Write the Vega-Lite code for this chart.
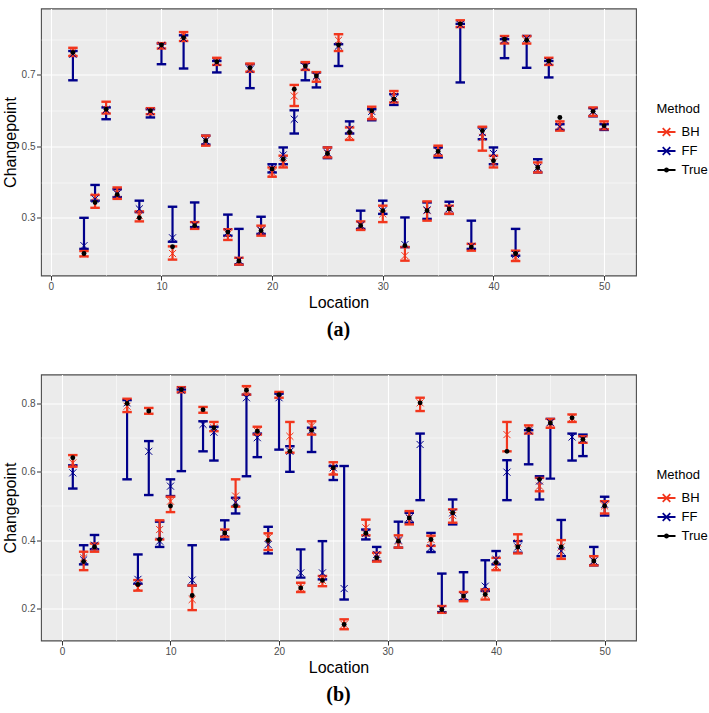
{
"$schema": "https://vega.github.io/schema/vega-lite/v6.json",
"background": "white",
"padding": {"left": 1, "top": 7.5, "right": 0, "bottom": 0},
"spacing": 33,
"datasets": {
"a": [
{"loc":2,"method":"True","est":0.763},{"loc":2,"method":"BH","lo":0.753,"hi":0.776,"est":0.765},{"loc":2,"method":"FF","lo":0.685,"hi":0.767,"est":0.758},
{"loc":3,"method":"True","est":0.200},{"loc":3,"method":"BH","lo":0.192,"hi":0.207,"est":0.199},{"loc":3,"method":"FF","lo":0.213,"hi":0.300,"est":0.222},
{"loc":4,"method":"True","est":0.343},{"loc":4,"method":"BH","lo":0.328,"hi":0.364,"est":0.359},{"loc":4,"method":"FF","lo":0.348,"hi":0.392,"est":0.353},
{"loc":5,"method":"True","est":0.604},{"loc":5,"method":"BH","lo":0.592,"hi":0.625,"est":0.604},{"loc":5,"method":"FF","lo":0.576,"hi":0.609,"est":0.602},
{"loc":6,"method":"True","est":0.365},{"loc":6,"method":"BH","lo":0.353,"hi":0.385,"est":0.369},{"loc":6,"method":"FF","lo":0.358,"hi":0.380,"est":0.367},
{"loc":8,"method":"True","est":0.300},{"loc":8,"method":"BH","lo":0.290,"hi":0.318,"est":0.306},{"loc":8,"method":"FF","lo":0.316,"hi":0.348,"est":0.325},
{"loc":9,"method":"True","est":0.600},{"loc":9,"method":"BH","lo":0.590,"hi":0.607,"est":0.600},{"loc":9,"method":"FF","lo":0.581,"hi":0.604,"est":0.598},
{"loc":10,"method":"True","est":0.784},{"loc":10,"method":"BH","lo":0.774,"hi":0.789,"est":0.784},{"loc":10,"method":"FF","lo":0.730,"hi":0.788,"est":0.782},
{"loc":11,"method":"True","est":0.219},{"loc":11,"method":"BH","lo":0.183,"hi":0.220,"est":0.200},{"loc":11,"method":"FF","lo":0.233,"hi":0.331,"est":0.244},
{"loc":12,"method":"True","est":0.804},{"loc":12,"method":"BH","lo":0.795,"hi":0.820,"est":0.811},{"loc":12,"method":"FF","lo":0.718,"hi":0.811,"est":0.802},
{"loc":13,"method":"True","est":0.278},{"loc":13,"method":"BH","lo":0.269,"hi":0.288,"est":0.278},{"loc":13,"method":"FF","lo":0.274,"hi":0.343,"est":0.280},
{"loc":14,"method":"True","est":0.516},{"loc":14,"method":"BH","lo":0.502,"hi":0.530,"est":0.516},{"loc":14,"method":"FF","lo":0.505,"hi":0.530,"est":0.516},
{"loc":15,"method":"True","est":0.737},{"loc":15,"method":"BH","lo":0.728,"hi":0.748,"est":0.737},{"loc":15,"method":"FF","lo":0.707,"hi":0.739,"est":0.735},
{"loc":16,"method":"True","est":0.260},{"loc":16,"method":"BH","lo":0.238,"hi":0.268,"est":0.255},{"loc":16,"method":"FF","lo":0.250,"hi":0.309,"est":0.260},
{"loc":17,"method":"True","est":0.179},{"loc":17,"method":"BH","lo":0.169,"hi":0.188,"est":0.179},{"loc":17,"method":"FF","lo":0.169,"hi":0.269,"est":0.181},
{"loc":18,"method":"True","est":0.720},{"loc":18,"method":"BH","lo":0.709,"hi":0.732,"est":0.720},{"loc":18,"method":"FF","lo":0.663,"hi":0.730,"est":0.715},
{"loc":19,"method":"True","est":0.264},{"loc":19,"method":"BH","lo":0.250,"hi":0.278,"est":0.264},{"loc":19,"method":"FF","lo":0.255,"hi":0.303,"est":0.265},
{"loc":20,"method":"True","est":0.437},{"loc":20,"method":"BH","lo":0.415,"hi":0.441,"est":0.427},{"loc":20,"method":"FF","lo":0.427,"hi":0.450,"est":0.437},
{"loc":21,"method":"True","est":0.464},{"loc":21,"method":"BH","lo":0.441,"hi":0.474,"est":0.452},{"loc":21,"method":"FF","lo":0.450,"hi":0.497,"est":0.476},
{"loc":22,"method":"True","est":0.660},{"loc":22,"method":"BH","lo":0.613,"hi":0.672,"est":0.641},{"loc":22,"method":"FF","lo":0.536,"hi":0.601,"est":0.576},
{"loc":23,"method":"True","est":0.725},{"loc":23,"method":"BH","lo":0.714,"hi":0.736,"est":0.725},{"loc":23,"method":"FF","lo":0.685,"hi":0.734,"est":0.722},
{"loc":24,"method":"True","est":0.697},{"loc":24,"method":"BH","lo":0.681,"hi":0.708,"est":0.695},{"loc":24,"method":"FF","lo":0.665,"hi":0.707,"est":0.697},
{"loc":25,"method":"True","est":0.480},{"loc":25,"method":"BH","lo":0.469,"hi":0.497,"est":0.480},{"loc":25,"method":"FF","lo":0.467,"hi":0.497,"est":0.482},
{"loc":26,"method":"True","est":0.784},{"loc":26,"method":"BH","lo":0.767,"hi":0.814,"est":0.797},{"loc":26,"method":"FF","lo":0.725,"hi":0.786,"est":0.781},
{"loc":27,"method":"True","est":0.539},{"loc":27,"method":"BH","lo":0.518,"hi":0.553,"est":0.530},{"loc":27,"method":"FF","lo":0.536,"hi":0.570,"est":0.548},
{"loc":28,"method":"True","est":0.278},{"loc":28,"method":"BH","lo":0.266,"hi":0.290,"est":0.278},{"loc":28,"method":"FF","lo":0.269,"hi":0.320,"est":0.280},
{"loc":29,"method":"True","est":0.600},{"loc":29,"method":"BH","lo":0.576,"hi":0.611,"est":0.588},{"loc":29,"method":"FF","lo":0.573,"hi":0.604,"est":0.598},
{"loc":30,"method":"True","est":0.320},{"loc":30,"method":"BH","lo":0.288,"hi":0.334,"est":0.311},{"loc":30,"method":"FF","lo":0.311,"hi":0.348,"est":0.320},
{"loc":31,"method":"True","est":0.632},{"loc":31,"method":"BH","lo":0.623,"hi":0.655,"est":0.641},{"loc":31,"method":"FF","lo":0.616,"hi":0.646,"est":0.632},
{"loc":32,"method":"True","est":0.222},{"loc":32,"method":"BH","lo":0.180,"hi":0.218,"est":0.194},{"loc":32,"method":"FF","lo":0.218,"hi":0.301,"est":0.225},
{"loc":34,"method":"True","est":0.320},{"loc":34,"method":"BH","lo":0.292,"hi":0.346,"est":0.320},{"loc":34,"method":"FF","lo":0.297,"hi":0.343,"est":0.322},
{"loc":35,"method":"True","est":0.486},{"loc":35,"method":"BH","lo":0.474,"hi":0.502,"est":0.486},{"loc":35,"method":"FF","lo":0.469,"hi":0.497,"est":0.486},
{"loc":36,"method":"True","est":0.325},{"loc":36,"method":"BH","lo":0.311,"hi":0.334,"est":0.325},{"loc":36,"method":"FF","lo":0.311,"hi":0.345,"est":0.326},
{"loc":37,"method":"True","est":0.843},{"loc":37,"method":"BH","lo":0.834,"hi":0.853,"est":0.843},{"loc":37,"method":"FF","lo":0.679,"hi":0.843,"est":0.841},
{"loc":38,"method":"True","est":0.218},{"loc":38,"method":"BH","lo":0.208,"hi":0.227,"est":0.218},{"loc":38,"method":"FF","lo":0.213,"hi":0.292,"est":0.220},
{"loc":39,"method":"True","est":0.544},{"loc":39,"method":"BH","lo":0.488,"hi":0.555,"est":0.525},{"loc":39,"method":"FF","lo":0.520,"hi":0.553,"est":0.539},
{"loc":40,"method":"True","est":0.460},{"loc":40,"method":"BH","lo":0.441,"hi":0.474,"est":0.456},{"loc":40,"method":"FF","lo":0.450,"hi":0.497,"est":0.480},
{"loc":41,"method":"True","est":0.800},{"loc":41,"method":"BH","lo":0.788,"hi":0.809,"est":0.800},{"loc":41,"method":"FF","lo":0.747,"hi":0.800,"est":0.798},
{"loc":42,"method":"True","est":0.200},{"loc":42,"method":"BH","lo":0.179,"hi":0.208,"est":0.190},{"loc":42,"method":"FF","lo":0.194,"hi":0.269,"est":0.197},
{"loc":43,"method":"True","est":0.797},{"loc":43,"method":"BH","lo":0.788,"hi":0.809,"est":0.795},{"loc":43,"method":"FF","lo":0.720,"hi":0.809,"est":0.802},
{"loc":44,"method":"True","est":0.441},{"loc":44,"method":"BH","lo":0.427,"hi":0.455,"est":0.441},{"loc":44,"method":"FF","lo":0.427,"hi":0.464,"est":0.441},
{"loc":45,"method":"True","est":0.739},{"loc":45,"method":"BH","lo":0.728,"hi":0.748,"est":0.739},{"loc":45,"method":"FF","lo":0.693,"hi":0.739,"est":0.737},
{"loc":46,"method":"True","est":0.581},{"loc":46,"method":"BH","lo":0.544,"hi":0.570,"est":0.558},{"loc":46,"method":"FF","lo":0.546,"hi":0.562,"est":0.555},
{"loc":49,"method":"True","est":0.598},{"loc":49,"method":"BH","lo":0.585,"hi":0.609,"est":0.598},{"loc":49,"method":"FF","lo":0.584,"hi":0.607,"est":0.598},
{"loc":50,"method":"True","est":0.558},{"loc":50,"method":"BH","lo":0.548,"hi":0.570,"est":0.558},{"loc":50,"method":"FF","lo":0.546,"hi":0.562,"est":0.556}
],
"b": [
{"loc":1,"method":"True","est":0.641},{"loc":1,"method":"BH","lo":0.615,"hi":0.649,"est":0.626},{"loc":1,"method":"FF","lo":0.551,"hi":0.619,"est":0.597},
{"loc":2,"method":"True","est":0.337},{"loc":2,"method":"BH","lo":0.312,"hi":0.366,"est":0.348},{"loc":2,"method":"FF","lo":0.329,"hi":0.385,"est":0.342},
{"loc":3,"method":"True","est":0.380},{"loc":3,"method":"BH","lo":0.366,"hi":0.390,"est":0.380},{"loc":3,"method":"FF","lo":0.373,"hi":0.415,"est":0.385},
{"loc":6,"method":"True","est":0.800},{"loc":6,"method":"BH","lo":0.775,"hi":0.814,"est":0.792},{"loc":6,"method":"FF","lo":0.578,"hi":0.810,"est":0.802},
{"loc":7,"method":"True","est":0.270},{"loc":7,"method":"BH","lo":0.252,"hi":0.283,"est":0.260},{"loc":7,"method":"FF","lo":0.272,"hi":0.358,"est":0.285},
{"loc":8,"method":"True","est":0.778},{"loc":8,"method":"BH","lo":0.770,"hi":0.787,"est":0.778},{"loc":8,"method":"FF","lo":0.532,"hi":0.690,"est":0.660},
{"loc":9,"method":"True","est":0.402},{"loc":9,"method":"BH","lo":0.402,"hi":0.458,"est":0.431},{"loc":9,"method":"FF","lo":0.380,"hi":0.454,"est":0.397},
{"loc":10,"method":"True","est":0.500},{"loc":10,"method":"BH","lo":0.482,"hi":0.527,"est":0.514},{"loc":10,"method":"FF","lo":0.529,"hi":0.578,"est":0.558},
{"loc":11,"method":"True","est":0.841},{"loc":11,"method":"BH","lo":0.833,"hi":0.848,"est":0.841},{"loc":11,"method":"FF","lo":0.602,"hi":0.841,"est":0.839},
{"loc":12,"method":"True","est":0.238},{"loc":12,"method":"BH","lo":0.195,"hi":0.267,"est":0.226},{"loc":12,"method":"FF","lo":0.267,"hi":0.385,"est":0.283},
{"loc":13,"method":"True","est":0.782},{"loc":13,"method":"BH","lo":0.773,"hi":0.790,"est":0.782},{"loc":13,"method":"FF","lo":0.660,"hi":0.748,"est":0.739},
{"loc":14,"method":"True","est":0.729},{"loc":14,"method":"BH","lo":0.719,"hi":0.746,"est":0.729},{"loc":14,"method":"FF","lo":0.633,"hi":0.732,"est":0.716},
{"loc":15,"method":"True","est":0.421},{"loc":15,"method":"BH","lo":0.410,"hi":0.431,"est":0.421},{"loc":15,"method":"FF","lo":0.402,"hi":0.458,"est":0.421},
{"loc":16,"method":"True","est":0.500},{"loc":16,"method":"BH","lo":0.498,"hi":0.578,"est":0.529},{"loc":16,"method":"FF","lo":0.478,"hi":0.524,"est":0.511},
{"loc":17,"method":"True","est":0.839},{"loc":17,"method":"BH","lo":0.826,"hi":0.851,"est":0.839},{"loc":17,"method":"FF","lo":0.587,"hi":0.826,"est":0.817},
{"loc":18,"method":"True","est":0.719},{"loc":18,"method":"BH","lo":0.709,"hi":0.732,"est":0.719},{"loc":18,"method":"FF","lo":0.643,"hi":0.712,"est":0.700},
{"loc":19,"method":"True","est":0.399},{"loc":19,"method":"BH","lo":0.371,"hi":0.420,"est":0.407},{"loc":19,"method":"FF","lo":0.361,"hi":0.439,"est":0.387},
{"loc":20,"method":"True","est":0.826},{"loc":20,"method":"BH","lo":0.817,"hi":0.834,"est":0.826},{"loc":20,"method":"FF","lo":0.665,"hi":0.829,"est":0.817},
{"loc":21,"method":"True","est":0.660},{"loc":21,"method":"BH","lo":0.656,"hi":0.746,"est":0.704},{"loc":21,"method":"FF","lo":0.600,"hi":0.675,"est":0.660},
{"loc":22,"method":"True","est":0.260},{"loc":22,"method":"BH","lo":0.248,"hi":0.275,"est":0.260},{"loc":22,"method":"FF","lo":0.290,"hi":0.373,"est":0.304},
{"loc":23,"method":"True","est":0.722},{"loc":23,"method":"BH","lo":0.709,"hi":0.748,"est":0.734},{"loc":23,"method":"FF","lo":0.658,"hi":0.729,"est":0.722},
{"loc":24,"method":"True","est":0.282},{"loc":24,"method":"BH","lo":0.265,"hi":0.295,"est":0.282},{"loc":24,"method":"FF","lo":0.285,"hi":0.397,"est":0.304},
{"loc":25,"method":"True","est":0.612},{"loc":25,"method":"BH","lo":0.592,"hi":0.628,"est":0.602},{"loc":25,"method":"FF","lo":0.576,"hi":0.617,"est":0.612},
{"loc":26,"method":"True","est":0.153},{"loc":26,"method":"BH","lo":0.139,"hi":0.168,"est":0.153},{"loc":26,"method":"FF","lo":0.226,"hi":0.617,"est":0.258},
{"loc":28,"method":"True","est":0.420},{"loc":28,"method":"BH","lo":0.414,"hi":0.460,"est":0.436},{"loc":28,"method":"FF","lo":0.402,"hi":0.431,"est":0.420},
{"loc":29,"method":"True","est":0.348},{"loc":29,"method":"BH","lo":0.337,"hi":0.363,"est":0.348},{"loc":29,"method":"FF","lo":0.339,"hi":0.380,"est":0.358},
{"loc":31,"method":"True","est":0.397},{"loc":31,"method":"BH","lo":0.378,"hi":0.414,"est":0.397},{"loc":31,"method":"FF","lo":0.378,"hi":0.454,"est":0.400},
{"loc":32,"method":"True","est":0.465},{"loc":32,"method":"BH","lo":0.446,"hi":0.485,"est":0.465},{"loc":32,"method":"FF","lo":0.451,"hi":0.480,"est":0.465},
{"loc":33,"method":"True","est":0.802},{"loc":33,"method":"BH","lo":0.778,"hi":0.817,"est":0.802},{"loc":33,"method":"FF","lo":0.517,"hi":0.712,"est":0.680},
{"loc":34,"method":"True","est":0.402},{"loc":34,"method":"BH","lo":0.383,"hi":0.413,"est":0.402},{"loc":34,"method":"FF","lo":0.365,"hi":0.421,"est":0.378},
{"loc":35,"method":"True","est":0.197},{"loc":35,"method":"BH","lo":0.187,"hi":0.207,"est":0.197},{"loc":35,"method":"FF","lo":0.189,"hi":0.302,"est":0.197},
{"loc":36,"method":"True","est":0.480},{"loc":36,"method":"BH","lo":0.451,"hi":0.490,"est":0.472},{"loc":36,"method":"FF","lo":0.446,"hi":0.519,"est":0.480},
{"loc":37,"method":"True","est":0.236},{"loc":37,"method":"BH","lo":0.221,"hi":0.248,"est":0.236},{"loc":37,"method":"FF","lo":0.224,"hi":0.306,"est":0.236},
{"loc":39,"method":"True","est":0.241},{"loc":39,"method":"BH","lo":0.226,"hi":0.256,"est":0.241},{"loc":39,"method":"FF","lo":0.251,"hi":0.341,"est":0.265},
{"loc":40,"method":"True","est":0.334},{"loc":40,"method":"BH","lo":0.312,"hi":0.348,"est":0.324},{"loc":40,"method":"FF","lo":0.329,"hi":0.368,"est":0.343},
{"loc":41,"method":"True","est":0.660},{"loc":41,"method":"BH","lo":0.660,"hi":0.746,"est":0.709},{"loc":41,"method":"FF","lo":0.517,"hi":0.634,"est":0.599},
{"loc":42,"method":"True","est":0.380},{"loc":42,"method":"BH","lo":0.361,"hi":0.417,"est":0.392},{"loc":42,"method":"FF","lo":0.363,"hi":0.397,"est":0.380},
{"loc":43,"method":"True","est":0.724},{"loc":43,"method":"BH","lo":0.712,"hi":0.736,"est":0.724},{"loc":43,"method":"FF","lo":0.622,"hi":0.722,"est":0.720},
{"loc":44,"method":"True","est":0.578},{"loc":44,"method":"BH","lo":0.543,"hi":0.582,"est":0.558},{"loc":44,"method":"FF","lo":0.519,"hi":0.587,"est":0.573},
{"loc":45,"method":"True","est":0.743},{"loc":45,"method":"BH","lo":0.729,"hi":0.755,"est":0.743},{"loc":45,"method":"FF","lo":0.580,"hi":0.755,"est":0.745},
{"loc":46,"method":"True","est":0.380},{"loc":46,"method":"BH","lo":0.345,"hi":0.400,"est":0.380},{"loc":46,"method":"FF","lo":0.353,"hi":0.459,"est":0.368},
{"loc":47,"method":"True","est":0.758},{"loc":47,"method":"BH","lo":0.746,"hi":0.768,"est":0.758},{"loc":47,"method":"FF","lo":0.633,"hi":0.712,"est":0.702},
{"loc":48,"method":"True","est":0.695},{"loc":48,"method":"BH","lo":0.685,"hi":0.704,"est":0.695},{"loc":48,"method":"FF","lo":0.646,"hi":0.709,"est":0.695},
{"loc":49,"method":"True","est":0.339},{"loc":49,"method":"BH","lo":0.326,"hi":0.353,"est":0.339},{"loc":49,"method":"FF","lo":0.326,"hi":0.380,"est":0.339},
{"loc":50,"method":"True","est":0.500},{"loc":50,"method":"BH","lo":0.478,"hi":0.514,"est":0.500},{"loc":50,"method":"FF","lo":0.472,"hi":0.527,"est":0.505}
]
},
"vconcat": [
{
"width": 595, "height": 267,
"title": {"text": "(a)", "orient": "bottom", "font": "Liberation Serif", "fontSize": 20, "fontWeight": "bold", "color": "black", "offset": 9, "anchor": "middle"},
"data": {"name": "a"},
"encoding": {"x": {"field": "loc", "type": "quantitative", "scale": {"domain": [-0.885, 52.88], "nice": false, "zero": false},
  "axis": {"title": "Location", "values": [0,5,10,15,20,25,30,35,40,45,50], "format": "d", "labelExpr": "datum.value % 10 === 0 ? datum.label : ''", "gridWidth": {"condition": {"test": "datum.value % 10 === 0", "value": 1.1}, "value": 0.5}, "tickOpacity": {"condition": {"test": "datum.value % 10 === 0", "value": 1}, "value": 0}}}},
"layer": [
{"transform": [{"filter": "datum.method === 'FF'"}], "mark": {"type": "rule", "color": "#00008B", "strokeWidth": 2.2},
 "encoding": {"y": {"field": "lo", "type": "quantitative", "scale": {"domain": [0.1385, 0.886], "nice": false, "zero": false},
   "axis": {"title": "Changepoint", "values": [0.2,0.3,0.4,0.5,0.6,0.7,0.8], "format": ".1f", "labelExpr": "round(datum.value*10) % 2 === 1 ? datum.label : ''", "gridWidth": {"condition": {"test": "round(datum.value*10) % 2 === 1", "value": 1.1}, "value": 0.5}, "tickOpacity": {"condition": {"test": "round(datum.value*10) % 2 === 1", "value": 1}, "value": 0}}},
  "y2": {"field": "hi"}}},
{"transform": [{"filter": "datum.method === 'FF'"}], "mark": {"type": "tick", "orient": "horizontal", "color": "#00008B", "size": 9.5, "thickness": 2.4, "opacity": 1}, "encoding": {"y": {"field": "lo", "type": "quantitative"}}},
{"transform": [{"filter": "datum.method === 'FF'"}], "mark": {"type": "tick", "orient": "horizontal", "color": "#00008B", "size": 9.5, "thickness": 2.4, "opacity": 1}, "encoding": {"y": {"field": "hi", "type": "quantitative"}}},
{"transform": [{"filter": "datum.method === 'BH'"}], "mark": {"type": "rule", "color": "#F2361D", "strokeWidth": 2.2}, "encoding": {"y": {"field": "lo", "type": "quantitative"}, "y2": {"field": "hi"}}},
{"transform": [{"filter": "datum.method === 'BH'"}], "mark": {"type": "tick", "orient": "horizontal", "color": "#F2361D", "size": 9.5, "thickness": 2.4, "opacity": 1}, "encoding": {"y": {"field": "lo", "type": "quantitative"}}},
{"transform": [{"filter": "datum.method === 'BH'"}], "mark": {"type": "tick", "orient": "horizontal", "color": "#F2361D", "size": 9.5, "thickness": 2.4, "opacity": 1}, "encoding": {"y": {"field": "hi", "type": "quantitative"}}},
{"transform": [{"filter": "datum.method === 'BH'"}], "mark": {"type": "point", "shape": "M-1,-1L1,1M-1,1L1,-1", "size": 50, "strokeWidth": 1, "filled": false, "color": "#F2361D", "opacity": 1}, "encoding": {"y": {"field": "est", "type": "quantitative"}}},
{"transform": [{"filter": "datum.method === 'FF'"}], "mark": {"type": "point", "shape": "M-1,-1L1,1M-1,1L1,-1", "size": 50, "strokeWidth": 1, "filled": false, "color": "#00008B", "opacity": 1}, "encoding": {"y": {"field": "est", "type": "quantitative"}}},
{"transform": [{"filter": "datum.method === 'True'"}], "mark": {"type": "circle", "size": 24, "color": "black", "opacity": 1}, "encoding": {"y": {"field": "est", "type": "quantitative"}}},
{"mark": {"type": "point", "opacity": 0, "filled": false, "strokeWidth": 1.8},
 "encoding": {"y": {"field": "est", "type": "quantitative"},
  "color": {"field": "method", "type": "nominal", "scale": {"domain": ["BH","FF","True"], "range": ["#F2361D","#00008B","#000000"]},
    "legend": {"title": "Method", "orient": "none", "legendX": 615.5, "legendY": 94.5}},
  "shape": {"field": "method", "type": "nominal", "scale": {"domain": ["BH","FF","True"], "range": ["M-1,0L1,0M-0.42,-0.42L0.42,0.42M-0.42,0.42L0.42,-0.42","M-1,0L1,0M-0.42,-0.42L0.42,0.42M-0.42,0.42L0.42,-0.42","M-1,0L1,0M-0.18,0A0.18,0.18 0 1,1 0.18,0A0.18,0.18 0 1,1 -0.18,0"]},
    "legend": {"title": "Method", "orient": "none", "legendX": 615.5, "legendY": 94.5}}}}
]
},
{
"width": 595, "height": 266,
"title": {"text": "(b)", "orient": "bottom", "font": "Liberation Serif", "fontSize": 20, "fontWeight": "bold", "color": "black", "offset": 9, "anchor": "middle"},
"data": {"name": "b"},
"encoding": {"x": {"field": "loc", "type": "quantitative", "scale": {"domain": [-1.93, 52.89], "nice": false, "zero": false},
  "axis": {"title": "Location", "values": [0,5,10,15,20,25,30,35,40,45,50], "format": "d", "labelExpr": "datum.value % 10 === 0 ? datum.label : ''", "gridWidth": {"condition": {"test": "datum.value % 10 === 0", "value": 1.1}, "value": 0.5}, "tickOpacity": {"condition": {"test": "datum.value % 10 === 0", "value": 1}, "value": 0}}}},
"layer": [
{"transform": [{"filter": "datum.method === 'FF'"}], "mark": {"type": "rule", "color": "#00008B", "strokeWidth": 2.2},
 "encoding": {"y": {"field": "lo", "type": "quantitative", "scale": {"domain": [0.106, 0.885], "nice": false, "zero": false},
   "axis": {"title": "Changepoint", "values": [0.2,0.3,0.4,0.5,0.6,0.7,0.8], "format": ".1f", "labelExpr": "round(datum.value*10) % 2 === 0 ? datum.label : ''", "gridWidth": {"condition": {"test": "round(datum.value*10) % 2 === 0", "value": 1.1}, "value": 0.5}, "tickOpacity": {"condition": {"test": "round(datum.value*10) % 2 === 0", "value": 1}, "value": 0}}},
  "y2": {"field": "hi"}}},
{"transform": [{"filter": "datum.method === 'FF'"}], "mark": {"type": "tick", "orient": "horizontal", "color": "#00008B", "size": 9.5, "thickness": 2.4, "opacity": 1}, "encoding": {"y": {"field": "lo", "type": "quantitative"}}},
{"transform": [{"filter": "datum.method === 'FF'"}], "mark": {"type": "tick", "orient": "horizontal", "color": "#00008B", "size": 9.5, "thickness": 2.4, "opacity": 1}, "encoding": {"y": {"field": "hi", "type": "quantitative"}}},
{"transform": [{"filter": "datum.method === 'BH'"}], "mark": {"type": "rule", "color": "#F2361D", "strokeWidth": 2.2}, "encoding": {"y": {"field": "lo", "type": "quantitative"}, "y2": {"field": "hi"}}},
{"transform": [{"filter": "datum.method === 'BH'"}], "mark": {"type": "tick", "orient": "horizontal", "color": "#F2361D", "size": 9.5, "thickness": 2.4, "opacity": 1}, "encoding": {"y": {"field": "lo", "type": "quantitative"}}},
{"transform": [{"filter": "datum.method === 'BH'"}], "mark": {"type": "tick", "orient": "horizontal", "color": "#F2361D", "size": 9.5, "thickness": 2.4, "opacity": 1}, "encoding": {"y": {"field": "hi", "type": "quantitative"}}},
{"transform": [{"filter": "datum.method === 'BH'"}], "mark": {"type": "point", "shape": "M-1,-1L1,1M-1,1L1,-1", "size": 50, "strokeWidth": 1, "filled": false, "color": "#F2361D", "opacity": 1}, "encoding": {"y": {"field": "est", "type": "quantitative"}}},
{"transform": [{"filter": "datum.method === 'FF'"}], "mark": {"type": "point", "shape": "M-1,-1L1,1M-1,1L1,-1", "size": 50, "strokeWidth": 1, "filled": false, "color": "#00008B", "opacity": 1}, "encoding": {"y": {"field": "est", "type": "quantitative"}}},
{"transform": [{"filter": "datum.method === 'True'"}], "mark": {"type": "circle", "size": 24, "color": "black", "opacity": 1}, "encoding": {"y": {"field": "est", "type": "quantitative"}}},
{"mark": {"type": "point", "opacity": 0, "filled": false, "strokeWidth": 1.8},
 "encoding": {"y": {"field": "est", "type": "quantitative"},
  "color": {"field": "method", "type": "nominal", "scale": {"domain": ["BH","FF","True"], "range": ["#F2361D","#00008B","#000000"]},
    "legend": {"title": "Method", "orient": "none", "legendX": 615.5, "legendY": 94.5}},
  "shape": {"field": "method", "type": "nominal", "scale": {"domain": ["BH","FF","True"], "range": ["M-1,0L1,0M-0.42,-0.42L0.42,0.42M-0.42,0.42L0.42,-0.42","M-1,0L1,0M-0.42,-0.42L0.42,0.42M-0.42,0.42L0.42,-0.42","M-1,0L1,0M-0.18,0A0.18,0.18 0 1,1 0.18,0A0.18,0.18 0 1,1 -0.18,0"]},
    "legend": {"title": "Method", "orient": "none", "legendX": 615.5, "legendY": 94.5}}}}
]
}
],
"resolve": {"scale": {"color": "independent", "shape": "independent"}, "legend": {"color": "independent", "shape": "independent"}},
"config": {
 "font": "Liberation Sans",
 "view": {"fill": "#EBEBEB", "stroke": "#4D4D4D", "strokeWidth": 1.1},
 "axis": {"grid": true, "gridColor": "#FFFFFF", "domain": false, "tickColor": "#333333", "tickSize": 4.5, "tickWidth": 1, "labelFont": "Liberation Sans", "labelFontSize": 10, "labelColor": "#4D4D4D", "labelPadding": 1.5, "labelFlush": false, "titleFont": "Liberation Sans", "titleFontSize": 16, "titleFontWeight": "normal", "titleColor": "#000000"},
 "axisX": {"titlePadding": 3},
 "axisY": {"titlePadding": 2.5, "minExtent": 20, "maxExtent": 20},
 "legend": {"titleFontSize": 13, "titleFontWeight": "normal", "titleColor": "#000000", "titleFont": "Liberation Sans", "labelFontSize": 13, "labelFont": "Liberation Sans", "labelColor": "#000000", "symbolSize": 324, "symbolStrokeWidth": 1.8, "symbolOpacity": 1, "labelOffset": 5, "rowPadding": 1, "titlePadding": 6, "padding": 0}
}
}
